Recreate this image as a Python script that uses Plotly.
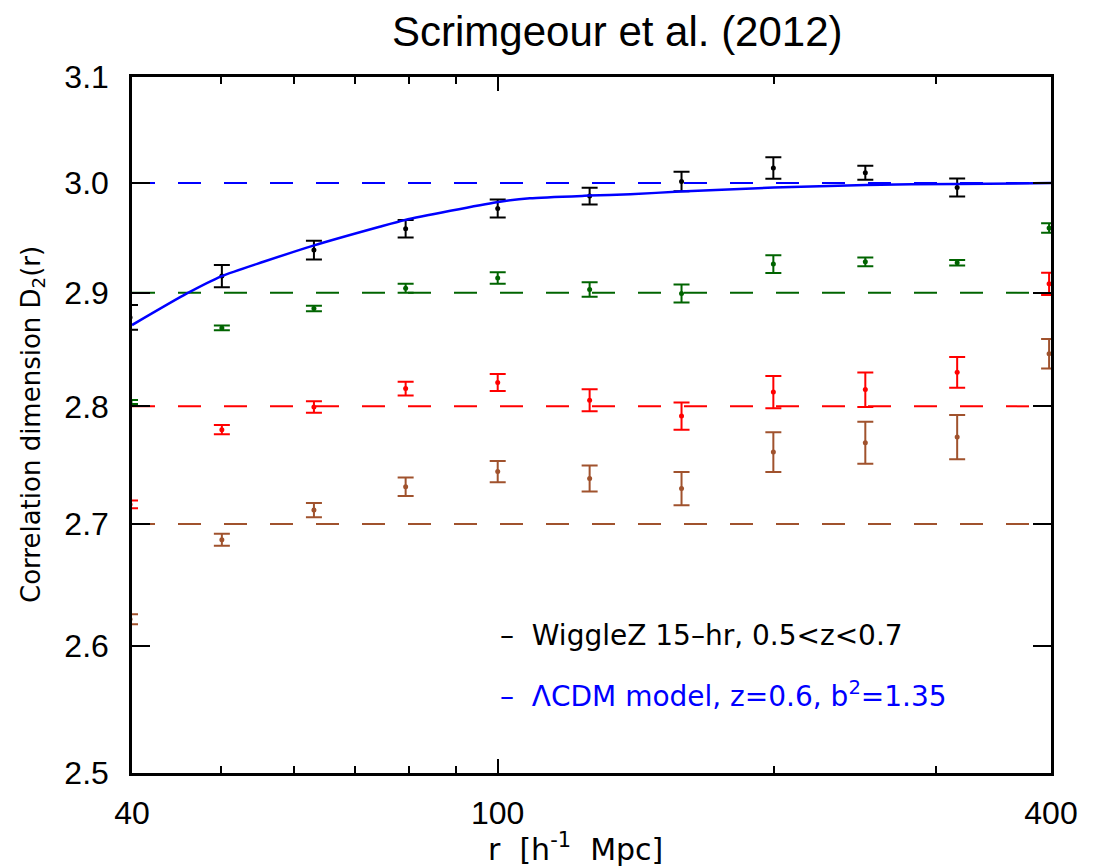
import plotly.graph_objects as go

# Radial bins (h^-1 Mpc), log-spaced
R_BINS = [39.8, 50.1, 63.1, 79.4, 100.0, 125.9, 158.5, 199.5, 251.2, 316.2, 398.1]

# WiggleZ 15-hr, 0.5<z<0.7 measurement
D2_WIGGLEZ = [2.878, 2.915, 2.9385, 2.958, 2.9766, 2.988, 3.0015, 3.014, 3.0096, 2.996]
ERR_WIGGLEZ = [0.011, 0.010, 0.0085, 0.008, 0.0083, 0.0077, 0.009, 0.010, 0.0065, 0.0083]

# Offset series (green, red, brown)
D2_GREEN = [2.8037, 2.8687, 2.886, 2.904, 2.9132, 2.903, 2.8994, 2.9258, 2.9279, 2.927, 2.9586]
ERR_GREEN = [0.0018, 0.0022, 0.0025, 0.004, 0.0052, 0.0065, 0.008, 0.008, 0.004, 0.0025, 0.0043]

D2_RED = [2.7164, 2.7799, 2.7994, 2.8154, 2.8207, 2.8052, 2.7916, 2.8124, 2.8145, 2.8296, 2.908]
ERR_RED = [0.0032, 0.004, 0.005, 0.006, 0.0075, 0.0095, 0.0117, 0.014, 0.015, 0.0134, 0.010]

D2_BROWN = [2.6217, 2.6869, 2.7116, 2.7313, 2.7441, 2.7382, 2.7297, 2.7607, 2.7687, 2.7736, 2.8459]
ERR_BROWN = [0.004, 0.005, 0.006, 0.0078, 0.009, 0.011, 0.014, 0.017, 0.018, 0.019, 0.013]

# LambdaCDM model curve, z=0.6, b^2=1.35
MODEL_R = [40, 45.9, 50.1, 55.6, 63.0, 74.4, 79.3, 99.7, 108.4, 125.8, 139.4, 157.9, 199.6, 251.4, 316.8, 400]
MODEL_D2 = [2.8712, 2.8994, 2.9150, 2.9279, 2.9426, 2.9598, 2.9660, 2.9823, 2.9860, 2.9884,
            2.9897, 2.9921, 2.9958, 2.9983, 2.9992, 3.0]

# Homogeneity reference levels
LEVELS = [3.0, 2.9, 2.8, 2.7]
LEVEL_COLORS = ["#0000ff", "#006400", "#ff0000", "#a0522d"]

X_TICKS = [40, 100, 400]
X_MINOR = [50, 60, 70, 80, 90, 200, 300]
Y_TICKS = [2.5, 2.6, 2.7, 2.8, 2.9, 3.0, 3.1]

fig = go.Figure()

for lvl, col in zip(LEVELS, LEVEL_COLORS):
    fig.add_trace(go.Scatter(
        x=[X_TICKS[0], X_TICKS[-1]], y=[lvl, lvl], mode="lines",
        line=dict(color=col, width=2, dash="23px,23px"), hoverinfo="skip"))


def points(r, d2, err, col):
    fig.add_trace(go.Scatter(
        x=r, y=d2, mode="markers",
        marker=dict(color=col, size=5),
        error_y=dict(type="data", array=err, visible=True, color=col, thickness=2, width=8)))


points(R_BINS, D2_BROWN, ERR_BROWN, "#a0522d")
points(R_BINS, D2_RED, ERR_RED, "#ff0000")
points(R_BINS, D2_GREEN, ERR_GREEN, "#006400")
points(R_BINS[:len(D2_WIGGLEZ)], D2_WIGGLEZ, ERR_WIGGLEZ, "#000000")

fig.add_trace(go.Scatter(
    x=MODEL_R, y=MODEL_D2, mode="lines",
    line=dict(color="#0000ff", width=2.5, shape="spline", smoothing=0.6)))

axis_common = dict(
    showgrid=False, zeroline=False, showline=True, linecolor="black", linewidth=2.5,
    ticks="inside", tickcolor="black", tickwidth=2, mirror="ticks",
)

fig.update_xaxes(
    type="log", range=[1.60206, 2.60206],
    tickvals=X_TICKS, ticktext=[str(v) for v in X_TICKS], ticklen=14,
    tickfont=dict(family="Liberation Sans", size=32, color="black"),
    minor=dict(tickvals=X_MINOR, ticks="inside", ticklen=7, tickwidth=2, tickcolor="black"),
    ticklabelstandoff=10,
    **axis_common)

fig.update_yaxes(
    type="log", range=[0.39794, 0.49136],
    tickvals=Y_TICKS, ticktext=["%.1f" % v for v in Y_TICKS], ticklen=18,
    tickfont=dict(family="Liberation Sans", size=32, color="black"),
    ticklabelstandoff=14,
    **axis_common)

fig.update_layout(
    width=1098, height=867,
    margin=dict(l=132, r=47, t=77, b=94),
    plot_bgcolor="white", paper_bgcolor="white",
    showlegend=False,
    annotations=[
        dict(text="Scrimgeour et al. (2012)", x=0.528, y=1.0, xref="paper", yref="paper",
             yshift=46, showarrow=False, xanchor="center", yanchor="middle",
             font=dict(family="Liberation Sans", size=42, color="black")),
        dict(text="Correlation dimension D<sub>2</sub>(r)", x=0, y=0.5, xref="paper", yref="paper",
             xshift=-100, textangle=-90, showarrow=False, xanchor="center", yanchor="middle",
             font=dict(family="DejaVu Sans", size=26, color="black")),
        dict(text="r  [h<sup>-1</sup>  Mpc]", x=0.483, y=0, xref="paper", yref="paper",
             yshift=-74, showarrow=False, xanchor="center", yanchor="middle",
             font=dict(family="DejaVu Sans", size=30, color="black")),
        dict(text="–  WiggleZ 15–hr, 0.5&lt;z&lt;0.7", x=0.398, y=0.198, xref="paper", yref="paper",
             showarrow=False, xanchor="left", yanchor="middle",
             font=dict(family="DejaVu Sans", size=28, color="black")),
        dict(text="–  ΛCDM model, z=0.6, b<sup>2</sup>=1.35", x=0.398, y=0.113, xref="paper", yref="paper",
             showarrow=False, xanchor="left", yanchor="middle",
             font=dict(family="DejaVu Sans", size=28, color="#0000ff")),
    ],
)

fig.write_html("out.html")
